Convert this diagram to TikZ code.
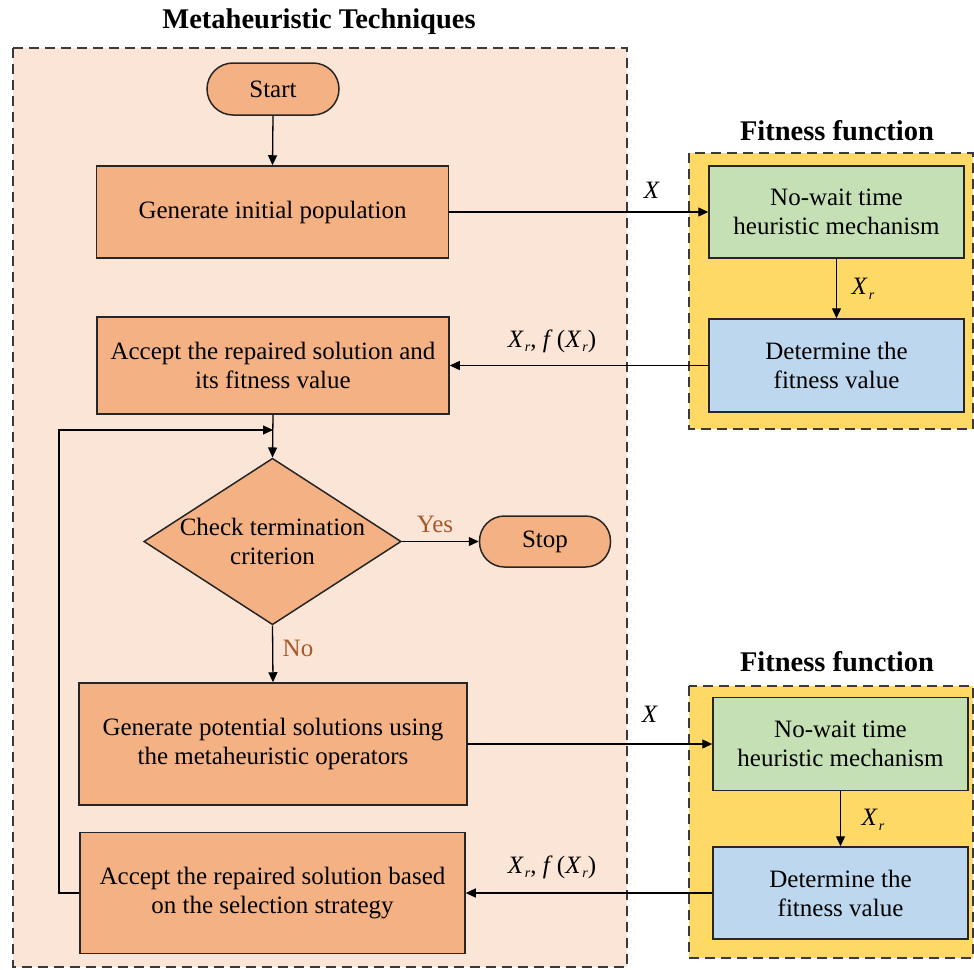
\documentclass[tikz,border=0pt]{standalone}
\usepackage{fontspec}
\setmainfont{Liberation Serif}
\usetikzlibrary{arrows.meta,shapes.geometric}
\definecolor{peachbg}{HTML}{FBE5D6}
\definecolor{orangebox}{HTML}{F4B183}
\definecolor{goldbg}{HTML}{FFD966}
\definecolor{greenbox}{HTML}{C5E0B4}
\definecolor{bluebox}{HTML}{BDD7EE}
\definecolor{edgegray}{HTML}{3A3A3A}
\definecolor{labelbrown}{HTML}{A8582A}
\newcommand{\varX}{\textit{X}}
\newcommand{\varXr}{\textit{X}\kern0.04em\raisebox{-0.4ex}{\fontsize{14}{14}\selectfont\textit{r}}}
\begin{document}
\begin{tikzpicture}[x=1pt,y=-1pt,
  font=\fontsize{25}{29}\selectfont,
  panel/.style={draw=edgegray,line width=1.4pt,dash pattern=on 10pt off 6pt},
  procbox/.style={draw=black!85,line width=1.5pt,fill=orangebox,align=center,inner sep=0pt},
  termbox/.style={procbox,rounded corners=25pt},
  fitbox/.style={draw=black!85,line width=1.5pt,align=center,inner sep=0pt,minimum width=255pt},
  decision/.style={procbox,diamond,aspect=1.545,minimum width=255pt,minimum height=165pt},
  arr/.style={draw=black,line width=1.3pt,-{Triangle[length=10pt,width=9pt]}},
  paneltitle/.style={font=\fontsize{28.5}{32}\selectfont\bfseries},
  branchlabel/.style={text=labelbrown}]
\useasboundingbox (0,0) rectangle (974,969);

% outer panel of the metaheuristic loop
\fill[peachbg] (13,48) rectangle (627,967);
\draw[panel] (13,48) rectangle (627,967);
\node[paneltitle] (ttl) at (319,22) {Metaheuristic Techniques};

% fitness function panels
\fill[goldbg] (689,153) rectangle (973,429);
\draw[panel] (689,153) rectangle (973,429);
\node[paneltitle] (fttl1) at (837,131) {Fitness function};
\fill[goldbg] (689,686) rectangle (973,958);
\draw[panel] (689,686) rectangle (973,958);
\node[paneltitle] (fttl2) at (837,662) {Fitness function};

% main flow
\node[termbox,minimum width=132pt,minimum height=52pt,rounded corners=26pt] (start) at (273,89) {Start};
\node[procbox,minimum width=352pt,minimum height=92pt] (gen) at (272.5,212) {Generate initial population};
\node[procbox,minimum width=352pt,minimum height=97pt] (acc1) at (273,365.5) {Accept the repaired solution and\\its fitness value};
\node[decision] (chk) at (272.5,541.5) {Check termination\\criterion};
\node[termbox,minimum width=131pt,minimum height=51pt] (stop) at (545,541.5) {Stop};
\node[procbox,minimum width=388pt,minimum height=122pt] (gp) at (273,744) {Generate potential solutions using\\the metaheuristic operators};
\node[procbox,minimum width=385pt,minimum height=121pt] (acc2) at (272.5,893) {Accept the repaired solution based\\on the selection strategy};

% fitness evaluation boxes
\node[fitbox,fill=greenbox,minimum height=92pt] (nw1) at (836.5,212) {No-wait time\\heuristic mechanism};
\node[fitbox,fill=bluebox,minimum height=93pt] (det1) at (836.5,365.5) {Determine the\\fitness value};
\node[fitbox,fill=greenbox,minimum height=93pt] (nw2) at (840.5,744) {No-wait time\\heuristic mechanism};
\node[fitbox,fill=bluebox,minimum height=92pt] (det2) at (840.5,893) {Determine the\\fitness value};

% connectors
\draw[arr] (start.south) -- (gen.north);
\draw[arr] (gen.east) -- (nw1.west);
\draw[arr] (nw1.south) -- (det1.north);
\draw[arr] (det1.west) -- (acc1.east);
\draw[arr] (acc1.south) -- (chk.north);
\draw[arr] (chk.east) -- (stop.west);
\draw[arr] (chk.south) -- (gp.north);
\draw[arr] (gp.east) -- (nw2.west);
\draw[arr] (nw2.south) -- (det2.north);
\draw[arr] (det2.west) -- (acc2.east);
\coordinate (loopc) at (59,430);
\coordinate (loopin) at (273,430);
\draw[arr] (acc2.west) -- (acc2.west -| loopc) -- (loopc) -- (loopin);

% connector labels
\node (lx1) at (652,190) {\varX};
\node (lxr1) at (863,289) {\varXr};
\node (lf1) at (552,341) {\varXr, \textit{f}\,(\varXr)};
\node[branchlabel] (lyes) at (435,524) {Yes};
\node[branchlabel] (lno) at (298,648) {No};
\node (lx2) at (650,714) {\varX};
\node (lxr2) at (873,820) {\varXr};
\node (lf2) at (552,867) {\varXr, \textit{f}\,(\varXr)};
\end{tikzpicture}
\end{document}
